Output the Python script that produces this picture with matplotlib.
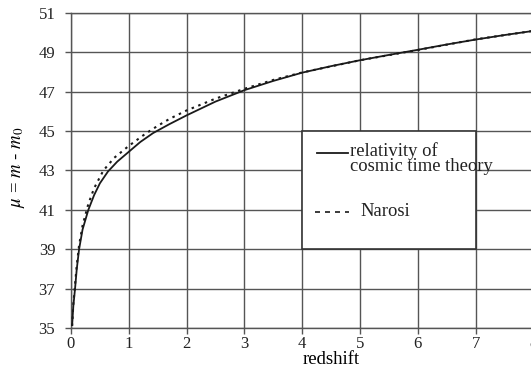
import matplotlib
matplotlib.use("Agg")
import matplotlib.pyplot as plt
from matplotlib.patches import Rectangle
from matplotlib.lines import Line2D

plt.rcParams.update({
    "font.family": ["Liberation Serif", "DejaVu Serif"],
    "mathtext.fontset": "stix",
    "text.color": "#222222",
    "axes.edgecolor": "#555555",
    "xtick.color": "#555555",
    "ytick.color": "#555555",
    "xtick.labelcolor": "#222222",
    "ytick.labelcolor": "#222222",
})

# relativity of cosmic time theory (solid)
z_rct = [0.02, 0.04, 0.07, 0.1, 0.14, 0.2, 0.3, 0.4, 0.5, 0.64, 0.8, 1.0, 1.2,
         1.42, 1.7, 2.0, 2.5, 3.0, 3.5, 4.0, 4.5, 5.0, 5.5, 6.0, 6.5, 7.0, 7.5, 8.0]
mu_rct = [35.15, 36.1, 37.0, 38.0, 39.0, 40.0, 41.0, 41.75, 42.35, 42.95, 43.45, 43.95, 44.45,
          44.9, 45.35, 45.8, 46.5, 47.08, 47.55, 47.97, 48.3, 48.6, 48.87, 49.13, 49.4, 49.65, 49.88, 50.09]

# Narosi (dotted)
z_nar = [0.02, 0.04, 0.07, 0.1, 0.14, 0.2, 0.3, 0.4, 0.56, 0.75, 1.0, 1.28, 1.5,
         1.71, 2.0, 2.5, 3.0, 3.5, 4.0, 5.0, 6.0, 7.0, 8.0]
mu_nar = [35.1, 36.2, 37.2, 38.2, 39.2, 40.2, 41.3, 42.1, 43.0, 43.65, 44.25, 44.85, 45.27,
          45.63, 46.05, 46.65, 47.15, 47.6, 47.98, 48.6, 49.12, 49.66, 50.09]

xticks = [0, 1, 2, 3, 4, 5, 6, 7, 8]
yticks = [35, 37, 39, 41, 43, 45, 47, 49, 51]

fig = plt.figure(figsize=(5.31, 3.69), dpi=100)
ax = fig.add_axes([0.1337, 0.1111, 0.8708, 0.8537])

ax.plot(z_rct, mu_rct, color="#1a1a1a", lw=1.3, zorder=3)
ax.plot(z_nar, mu_nar, color="#1a1a1a", lw=1.5, ls=(0, (1.2, 2.2)), zorder=3)

ax.set_xlim(0, 8)
ax.set_ylim(35, 51)
ax.set_xticks(xticks)
ax.set_yticks(yticks)
ax.grid(True, color="#555555", lw=1.0)
ax.set_axisbelow(True)
for s in ax.spines.values():
    s.set_linewidth(1.0)
ax.tick_params(direction="out", length=4.3, width=1.0, labelsize=12)
ax.tick_params(axis="x", pad=1.5)
ax.tick_params(axis="y", pad=7)

ax.set_xlabel("redshift", fontsize=13.5)
ax.xaxis.set_label_coords(0.562, -0.072)
ax.set_ylabel(r"$\mu$ = $m$ - $m_0$", fontsize=13.5)
ax.yaxis.set_label_coords(-0.095, 0.51)

# legend box
ax.add_patch(Rectangle((4, 39), 3, 6, facecolor="white", edgecolor="#333333", lw=1.2, zorder=2))
ax.add_line(Line2D([0.532, 0.599], [0.556, 0.556], transform=ax.transAxes,
                   color="#1a1a1a", lw=1.3, zorder=4))
ax.add_line(Line2D([0.528, 0.601], [0.368, 0.368], transform=ax.transAxes,
                   color="#1a1a1a", lw=1.2, ls=(0, (3, 3)), zorder=4))
ax.text(0.603, 0.538, "relativity of\ncosmic time theory", transform=ax.transAxes,
        fontsize=13.4, va="center", ha="left", linespacing=0.85, zorder=4)
ax.text(0.625, 0.371, "Narosi", transform=ax.transAxes,
        fontsize=13.4, va="center", ha="left", zorder=4)

fig.savefig("out.png", dpi=100)
